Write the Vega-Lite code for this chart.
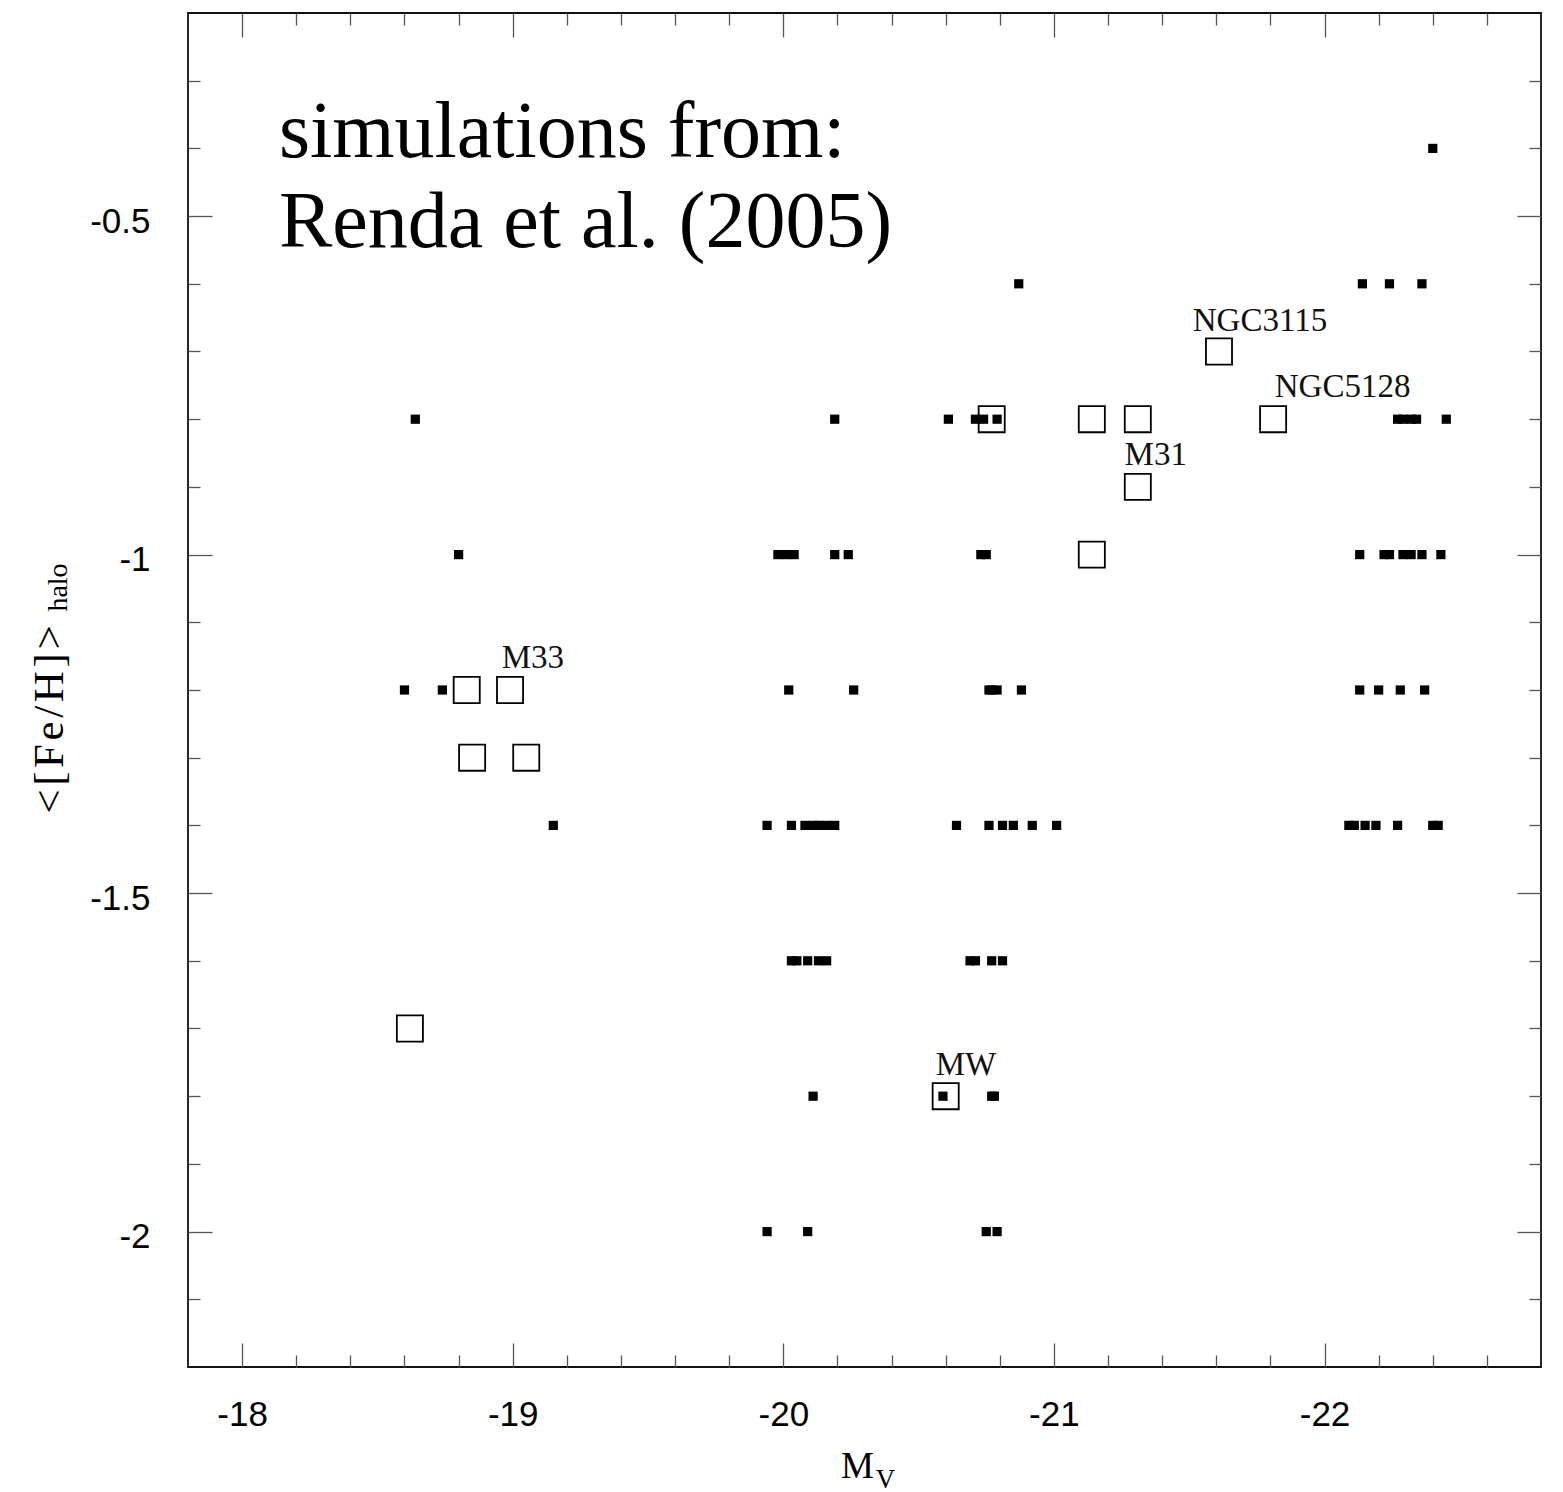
{
  "$schema": "https://vega.github.io/schema/vega-lite/v6.json",
  "width": 1353,
  "height": 1354,
  "autosize": {"type": "none"},
  "padding": {"left": 188, "top": 13, "right": 22, "bottom": 125},
  "background": "white",
  "config": {
    "view": {"stroke": "#111", "strokeWidth": 1.8},
    "axis": {
      "domain": false,
      "grid": false,
      "tickColor": "#555",
      "tickWidth": 1.3,
      "labelFont": "Liberation Sans",
      "labelFontSize": 35,
      "labelColor": "#000",
      "titleFont": "Liberation Serif",
      "titleFontWeight": "normal",
      "titleColor": "#000"
    }
  },
  "datasets": {
    "sims": [
      {"Mv": -22.40, "FeH": -0.4},
      {"Mv": -20.87, "FeH": -0.6}, {"Mv": -22.14, "FeH": -0.6}, {"Mv": -22.24, "FeH": -0.6}, {"Mv": -22.36, "FeH": -0.6},
      {"Mv": -18.64, "FeH": -0.8}, {"Mv": -20.19, "FeH": -0.8}, {"Mv": -20.61, "FeH": -0.8}, {"Mv": -20.71, "FeH": -0.8}, {"Mv": -20.74, "FeH": -0.8}, {"Mv": -20.79, "FeH": -0.8}, {"Mv": -22.27, "FeH": -0.8}, {"Mv": -22.29, "FeH": -0.8}, {"Mv": -22.32, "FeH": -0.8}, {"Mv": -22.34, "FeH": -0.8}, {"Mv": -22.45, "FeH": -0.8},
      {"Mv": -18.80, "FeH": -1.0}, {"Mv": -19.98, "FeH": -1.0}, {"Mv": -20.01, "FeH": -1.0}, {"Mv": -20.04, "FeH": -1.0}, {"Mv": -20.19, "FeH": -1.0}, {"Mv": -20.24, "FeH": -1.0}, {"Mv": -20.73, "FeH": -1.0}, {"Mv": -20.75, "FeH": -1.0}, {"Mv": -22.13, "FeH": -1.0}, {"Mv": -22.22, "FeH": -1.0}, {"Mv": -22.24, "FeH": -1.0}, {"Mv": -22.29, "FeH": -1.0}, {"Mv": -22.32, "FeH": -1.0}, {"Mv": -22.36, "FeH": -1.0}, {"Mv": -22.43, "FeH": -1.0},
      {"Mv": -18.60, "FeH": -1.2}, {"Mv": -18.74, "FeH": -1.2}, {"Mv": -20.02, "FeH": -1.2}, {"Mv": -20.26, "FeH": -1.2}, {"Mv": -20.76, "FeH": -1.2}, {"Mv": -20.77, "FeH": -1.2}, {"Mv": -20.79, "FeH": -1.2}, {"Mv": -20.88, "FeH": -1.2}, {"Mv": -22.13, "FeH": -1.2}, {"Mv": -22.20, "FeH": -1.2}, {"Mv": -22.28, "FeH": -1.2}, {"Mv": -22.37, "FeH": -1.2},
      {"Mv": -19.15, "FeH": -1.4}, {"Mv": -19.94, "FeH": -1.4}, {"Mv": -20.03, "FeH": -1.4}, {"Mv": -20.08, "FeH": -1.4}, {"Mv": -20.11, "FeH": -1.4}, {"Mv": -20.13, "FeH": -1.4}, {"Mv": -20.16, "FeH": -1.4}, {"Mv": -20.19, "FeH": -1.4}, {"Mv": -20.64, "FeH": -1.4}, {"Mv": -20.76, "FeH": -1.4}, {"Mv": -20.81, "FeH": -1.4}, {"Mv": -20.85, "FeH": -1.4}, {"Mv": -20.92, "FeH": -1.4}, {"Mv": -21.01, "FeH": -1.4}, {"Mv": -22.09, "FeH": -1.4}, {"Mv": -22.11, "FeH": -1.4}, {"Mv": -22.15, "FeH": -1.4}, {"Mv": -22.19, "FeH": -1.4}, {"Mv": -22.27, "FeH": -1.4}, {"Mv": -22.40, "FeH": -1.4}, {"Mv": -22.42, "FeH": -1.4},
      {"Mv": -20.03, "FeH": -1.6}, {"Mv": -20.05, "FeH": -1.6}, {"Mv": -20.09, "FeH": -1.6}, {"Mv": -20.13, "FeH": -1.6}, {"Mv": -20.16, "FeH": -1.6}, {"Mv": -20.69, "FeH": -1.6}, {"Mv": -20.71, "FeH": -1.6}, {"Mv": -20.77, "FeH": -1.6}, {"Mv": -20.81, "FeH": -1.6},
      {"Mv": -20.11, "FeH": -1.8}, {"Mv": -20.59, "FeH": -1.8}, {"Mv": -20.77, "FeH": -1.8}, {"Mv": -20.78, "FeH": -1.8},
      {"Mv": -19.94, "FeH": -2.0}, {"Mv": -20.09, "FeH": -2.0}, {"Mv": -20.75, "FeH": -2.0}, {"Mv": -20.79, "FeH": -2.0}
    ],
    "obs": [
      {"Mv": -18.62, "FeH": -1.7},
      {"Mv": -18.83, "FeH": -1.2},
      {"Mv": -18.99, "FeH": -1.2},
      {"Mv": -18.85, "FeH": -1.3},
      {"Mv": -19.05, "FeH": -1.3},
      {"Mv": -20.60, "FeH": -1.8},
      {"Mv": -20.77, "FeH": -0.8},
      {"Mv": -21.14, "FeH": -0.8},
      {"Mv": -21.31, "FeH": -0.8},
      {"Mv": -21.31, "FeH": -0.9},
      {"Mv": -21.14, "FeH": -1.0},
      {"Mv": -21.61, "FeH": -0.7},
      {"Mv": -21.81, "FeH": -0.8}
    ],
    "names": [
      {"name": "NGC3115", "Mv": -21.513, "FeH": -0.669},
      {"name": "NGC5128", "Mv": -21.816, "FeH": -0.767},
      {"name": "M31", "Mv": -21.261, "FeH": -0.867},
      {"name": "M33", "Mv": -18.959, "FeH": -1.168},
      {"name": "MW", "Mv": -20.563, "FeH": -1.768}
    ],
    "note": [
      {"line": "simulations from:", "Mv": -18.136, "FeH": -0.413},
      {"line": "Renda et al. (2005)", "Mv": -18.136, "FeH": -0.546}
    ]
  },
  "layer": [
    {
      "data": {"name": "sims"},
      "mark": {"type": "point", "shape": "square", "filled": true, "color": "#000", "size": 85, "opacity": 1, "strokeWidth": 0},
      "encoding": {
        "x": {
          "field": "Mv", "type": "quantitative",
          "scale": {"domain": [-22.8, -17.8], "reverse": true, "nice": false, "zero": false},
          "axis": {
            "orient": "bottom", "values": [-18, -19, -20, -21, -22], "tickSize": -24,
            "labelPadding": 54, "labelExpr": "datum.value + ''",
            "title": "M", "titleFontSize": 37, "titleX": 669, "titleY": 110,
            "titleAlign": "center", "titleBaseline": "alphabetic", "titleAngle": 0
          }
        },
        "y": {
          "field": "FeH", "type": "quantitative",
          "scale": {"domain": [-2.2, -0.2], "nice": false, "zero": false},
          "axis": {
            "orient": "left", "values": [-2, -1.5, -1, -0.5], "tickSize": -24,
            "labelPadding": 62, "labelOffset": 5, "labelExpr": "datum.value + ''",
            "title": "<\u200a[\u200aF\u200ae\u200a/\u200aH\u200a]\u200a>", "titleFontSize": 43, "titleAngle": 270,
            "titleX": -126, "titleY": 706, "titleAlign": "center", "titleBaseline": "alphabetic"
          }
        }
      }
    },
    {
      "data": {"name": "obs"},
      "mark": {"type": "point", "shape": "square", "filled": false, "stroke": "#000", "strokeWidth": 1.8, "size": 680, "opacity": 1},
      "encoding": {
        "x": {
          "field": "Mv", "type": "quantitative",
          "scale": {"domain": [-22.8, -17.8], "reverse": true, "nice": false, "zero": false},
          "axis": {
            "orient": "bottom",
            "values": [-18.2, -18.4, -18.6, -18.8, -19.2, -19.4, -19.6, -19.8, -20.2, -20.4, -20.6, -20.8, -21.2, -21.4, -21.6, -21.8, -22.2, -22.4, -22.6],
            "tickSize": -12, "labels": false,
            "title": "V", "titleFontSize": 27, "titleX": 697, "titleY": 120,
            "titleAlign": "center", "titleBaseline": "alphabetic", "titleAngle": 0
          }
        },
        "y": {
          "field": "FeH", "type": "quantitative",
          "scale": {"domain": [-2.2, -0.2], "nice": false, "zero": false},
          "axis": {
            "orient": "left",
            "values": [-2.1, -1.9, -1.8, -1.7, -1.6, -1.4, -1.3, -1.2, -1.1, -0.9, -0.8, -0.7, -0.6, -0.4, -0.3],
            "tickSize": -12, "labels": false,
            "title": "halo", "titleFontSize": 28, "titleAngle": 270,
            "titleX": -122, "titleY": 574, "titleAlign": "center", "titleBaseline": "alphabetic"
          }
        }
      }
    },
    {
      "data": {"name": "names"},
      "mark": {"type": "text", "align": "left", "baseline": "alphabetic", "font": "Liberation Serif", "fontSize": 33, "color": "#111"},
      "encoding": {
        "x": {
          "field": "Mv", "type": "quantitative",
          "scale": {"domain": [-22.8, -17.8], "reverse": true, "nice": false, "zero": false},
          "axis": {"orient": "top", "values": [-18, -19, -20, -21, -22], "tickSize": -24, "labels": false, "title": null}
        },
        "y": {
          "field": "FeH", "type": "quantitative",
          "scale": {"domain": [-2.2, -0.2], "nice": false, "zero": false},
          "axis": {"orient": "right", "values": [-2, -1.5, -1, -0.5], "tickSize": -24, "labels": false, "title": null}
        },
        "text": {"field": "name"}
      }
    },
    {
      "data": {"name": "note"},
      "mark": {"type": "text", "align": "left", "baseline": "alphabetic", "font": "Liberation Serif", "fontSize": 80, "color": "#000"},
      "encoding": {
        "x": {
          "field": "Mv", "type": "quantitative",
          "scale": {"domain": [-22.8, -17.8], "reverse": true, "nice": false, "zero": false},
          "axis": {
            "orient": "top",
            "values": [-18.2, -18.4, -18.6, -18.8, -19.2, -19.4, -19.6, -19.8, -20.2, -20.4, -20.6, -20.8, -21.2, -21.4, -21.6, -21.8, -22.2, -22.4, -22.6],
            "tickSize": -12, "labels": false, "title": null
          }
        },
        "y": {
          "field": "FeH", "type": "quantitative",
          "scale": {"domain": [-2.2, -0.2], "nice": false, "zero": false},
          "axis": {
            "orient": "right",
            "values": [-2.1, -1.9, -1.8, -1.7, -1.6, -1.4, -1.3, -1.2, -1.1, -0.9, -0.8, -0.7, -0.6, -0.4, -0.3],
            "tickSize": -12, "labels": false, "title": null
          }
        },
        "text": {"field": "line"}
      }
    }
  ],
  "resolve": {"axis": {"x": "independent", "y": "independent"}}
}
